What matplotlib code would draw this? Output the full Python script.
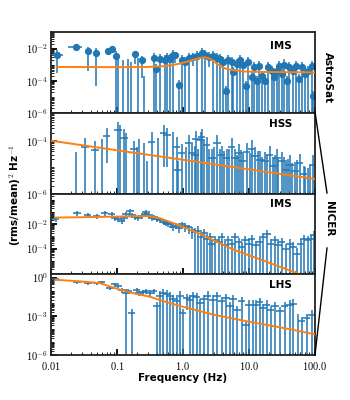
import matplotlib
matplotlib.use('Agg')
import matplotlib.pyplot as plt
import numpy as np
from matplotlib.ticker import FixedLocator, FixedFormatter, LogLocator, NullFormatter
from matplotlib.lines import Line2D

plt.rcParams['font.family'] = ['DejaVu Sans']
plt.rcParams['font.weight'] = 'bold'
plt.rcParams['mathtext.fontset'] = 'cm'

# ---------------- AstroSat IMS ----------------
astro_freq = [0.0123, 0.024, 0.036, 0.049, 0.073, 0.084, 0.098, 0.106, 0.122, 0.147,
              0.165, 0.19, 0.21, 0.24, 0.26, 0.36, 0.39, 0.45, 0.53, 0.57,
              0.64, 0.72, 0.76, 0.86, 0.96, 1.07, 1.25, 1.44, 1.65, 1.95,
              2.18, 2.5, 2.9, 3.3, 3.6, 4.1, 4.5, 4.9, 5.6, 5.8,
              6.6, 7.4, 8.1, 9.0, 9.8, 11.2, 12.0, 13.3, 14.4, 15.9,
              17.6, 19.5, 22.3, 24.1, 26.8, 28.7, 31.8, 34.1, 37.8, 40.6,
              46.7, 52.0, 57.8, 64.0, 71.0, 79.0, 91.0, 94.0]
astro_pow = [4.2e-3, 1.25e-2, 6.7e-3, 5.6e-3, 6.7e-3, 9.1e-3, 3.3e-3, 1e-9, 1e-9, 1e-9,
             1e-9, 4.3e-3, 1e-9, 1.85e-3, 1e-9, 2.6e-3, 5.1e-4, 2.4e-3, 1.85e-3, 2.6e-3,
             2.15e-3, 3.8e-3, 3.8e-3, 5.6e-5, 1.85e-3, 1.4e-3, 2.6e-3, 3.2e-3, 3.6e-3, 5.1e-3,
             4.2e-3, 3.2e-3, 3.6e-3, 2.6e-3, 2.2e-3, 1.4e-3, 2.4e-5, 1.9e-3, 1.4e-3, 3.3e-4,
             1.1e-3, 1.9e-3, 1.0e-3, 4.9e-5, 1.4e-3, 1.6e-4, 6.8e-4, 1.0e-4, 8.7e-4, 2.0e-4,
             1.0e-4, 6.8e-4, 4.2e-4, 1.6e-4, 4.2e-4, 8.7e-4, 2.6e-4, 1.0e-3, 1.0e-4, 6.8e-4,
             4.2e-4, 8.7e-4, 1.3e-4, 6.8e-4, 2.6e-4, 4.2e-4, 8.7e-4, 1.15e-5]
astro_err = [3.9e-3, 3e-3, 6.3e-3, 5.55e-3, 2e-3, 2.5e-3, 3.5e-3, 2.4e-3, 1.9e-3, 2.1e-3,
             1.5e-3, 3.2e-3, 2.6e-3, 1.7e-3, 2.1e-4, 2.7e-3, 6e-4, 2.5e-3, 2e-3, 2.7e-3,
             2.3e-3, 3.9e-3, 2.5e-3, 6e-5, 2e-3, 1.5e-3, 2.7e-3, 2.4e-3, 3.7e-3, 5.2e-3,
             4.3e-3, 2.5e-3, 3.7e-3, 2.7e-3, 2.3e-3, 1.5e-3, 2.5e-5, 2e-3, 1.5e-3, 3.4e-4,
             1.2e-3, 2e-3, 1.1e-3, 5e-5, 1.5e-3, 1.7e-4, 7e-4, 1.1e-4, 9e-4, 2.1e-4,
             1.1e-4, 7e-4, 4.3e-4, 1.7e-4, 4.3e-4, 9e-4, 2.7e-4, 1.1e-3, 1.1e-4, 7e-4,
             4.3e-4, 9e-4, 1.4e-4, 7e-4, 2.7e-4, 4.3e-4, 9e-4, 1.2e-5]
astro_model_f = [0.0123, 0.1, 0.3, 0.5, 0.7, 0.9, 1.2, 1.5, 1.8, 2.1, 2.4, 2.8, 3.3,
                 3.9, 4.6, 5.8, 8.0, 12.0, 20.0, 50.0, 100.0]
astro_model_p = [7.2e-4, 7.0e-4, 7.2e-4, 8e-4, 9.5e-4, 1.15e-3, 1.6e-3, 2.1e-3, 2.6e-3,
                 2.85e-3, 2.6e-3, 1.9e-3, 1.1e-3, 7e-4, 5.5e-4, 4.5e-4, 3.8e-4, 3.6e-4,
                 3.5e-4, 3.4e-4, 3.3e-4]

# ---------------- NICER HSS ----------------
hss_freq = [0.024, 0.033, 0.047, 0.06, 0.071, 0.105, 0.112, 0.13, 0.137, 0.185,
            0.2, 0.22, 0.26, 0.29, 0.34, 0.42, 0.51, 0.58, 0.7, 0.81,
            0.85, 0.96, 1.1, 1.25, 1.36, 1.53, 1.6, 1.7, 1.87, 1.94,
            2.1, 2.3, 2.5, 2.76, 3.0, 3.3, 3.6, 3.9, 4.2, 4.6,
            5.0, 5.5, 6.2, 6.6, 7.0, 7.6, 8.2, 9.3, 10.2, 11.0,
            12.5, 13.6, 14.8, 16.0, 17.7, 19.0, 20.5, 23.5, 25.0, 26.8,
            28.0, 31.6, 34.0, 36.7, 39.0, 42.0, 45.0, 50.0, 54.0, 59.0,
            67.0, 70.0, 78.0, 85.0, 92.0]
hss_pow = [1e-9, 6e-5, 4.6e-5, 1e-9, 1.54e-4, 2.5e-4, 1e-9, 1.3e-4, 1e-9, 4.8e-5,
           1e-9, 1e-9, 1e-9, 1e-9, 8.7e-5, 1e-9, 2.0e-4, 1.6e-4, 1e-9, 6e-5,
           8e-6, 3.4e-5, 1e-9, 8e-5, 3.4e-5, 3e-5, 1.2e-4, 1e-9, 1.07e-4, 1.4e-4,
           1e-9, 6.9e-5, 1e-9, 2.2e-5, 1e-9, 8e-5, 1e-9, 3e-5, 1e-9, 2.2e-5,
           1e-9, 6e-5, 2.2e-5, 1e-9, 3.4e-5, 1e-9, 1.7e-5, 3.9e-5, 1e-9, 5e-5,
           2.6e-5, 1e-9, 1.9e-5, 1e-9, 1.7e-5, 1e-9, 3e-5, 1.1e-5, 1e-9, 2.2e-5,
           1e-9, 1.7e-5, 1e-9, 8.1e-6, 1e-9, 1.26e-5, 1e-9, 7.1e-6, 1e-9, 1.45e-5,
           5.4e-6, 1e-9, 4e-6, 1e-9, 1.26e-5]
hss_err = [3.9e-5, 7e-5, 5e-5, 1.2e-4, 1.4e-4, 2.6e-4, 3.9e-4, 1.4e-4, 2e-4, 5e-5,
           6e-5, 1.2e-4, 8e-5, 1.7e-5, 1.2e-4, 1.3e-4, 1.9e-4, 1.5e-4, 2.2e-4, 8e-5,
           9e-6, 4e-5, 6e-5, 9e-5, 4e-5, 3.5e-5, 1.2e-4, 5e-5, 1.1e-4, 1.4e-4,
           1.2e-4, 7e-5, 5e-5, 2.5e-5, 6e-5, 8.5e-5, 5e-5, 3.5e-5, 4e-5, 2.5e-5,
           5e-5, 6.5e-5, 2.5e-5, 3e-5, 4e-5, 4.5e-5, 2e-5, 4e-5, 3.5e-5, 5.5e-5,
           3e-5, 4e-5, 2.2e-5, 2.5e-5, 2e-5, 3e-5, 3.5e-5, 1.3e-5, 3e-5, 2.5e-5,
           2e-5, 2e-5, 2.5e-5, 1e-5, 2e-5, 1.5e-5, 1.5e-5, 8e-6, 1.8e-5, 1.7e-5,
           6e-6, 1e-5, 5e-6, 1.2e-5, 1.5e-5]
hss_model_f = [0.01, 1.0, 100.0]
hss_model_p = [1e-4, 1.9e-5, 3.6e-6]

# ---------------- NICER IMS ----------------
ims_freq = [0.012, 0.025, 0.036, 0.05, 0.066, 0.084, 0.094, 0.106, 0.119, 0.13,
            0.14, 0.159, 0.172, 0.19, 0.21, 0.24, 0.27, 0.28, 0.31, 0.34,
            0.37, 0.40, 0.45, 0.51, 0.55, 0.6, 0.66, 0.72, 0.78, 0.86,
            0.96, 1.08, 1.22, 1.37, 1.54, 1.72, 1.87, 2.1, 2.3, 2.6,
            2.75, 3.1, 3.5, 3.9, 4.4, 4.9, 5.5, 6.2, 7.0, 7.8,
            8.8, 9.9, 11.1, 13.0, 14.5, 16.5, 19.0, 21.5, 25.0, 28.0,
            31.6, 36.7, 42.0, 47.0, 53.0, 61.0, 69.0, 77.0, 87.0, 95.0]
ims_pow = [0.025, 0.085, 0.055, 0.046, 0.085, 0.063, 0.034, 0.025, 0.018, 0.034,
           0.063, 0.115, 0.055, 0.038, 0.03, 0.046, 0.063, 0.1, 0.055, 0.034,
           0.038, 0.025, 0.022, 0.016, 0.013, 0.011, 0.0098, 0.006, 0.0075, 0.0048,
           0.01, 0.0073, 0.0054, 0.0033, 0.0021, 0.0029, 8.5e-4, 1.8e-3, 6.3e-4, 8.5e-4,
           2.5e-4, 4.6e-4, 3.4e-4, 8.5e-4, 1.8e-4, 4.6e-4, 2.5e-4, 8.5e-4, 3.4e-4, 1.35e-4,
           4.6e-4, 2.5e-4, 6.3e-4, 1.8e-4, 3.4e-4, 8.5e-4, 1.6e-3, 2.5e-4, 4.6e-4, 1.8e-4,
           3.4e-4, 1e-4, 2.5e-4, 1.35e-4, 4e-5, 2.5e-4, 6.3e-4, 4.6e-4, 6e-4, 1.2e-3]
ims_rel = [0.45, 0.45, 0.45, 0.45, 0.45, 0.45, 0.45, 0.45, 0.45, 0.45,
           0.45, 0.45, 0.45, 0.45, 0.45, 0.45, 0.45, 0.45, 0.45, 0.45,
           0.45, 0.45, 0.45, 0.5, 0.5, 0.5, 0.5, 0.5, 0.5, 0.6,
           0.6, 0.7, 0.7, 0.8, 1.1, 1.2, 1.3, 1.2, 1.4, 1.3,
           1.5, 1.3, 1.4, 1.2, 1.5, 1.3, 1.4, 1.2, 1.3, 1.6,
           1.3, 1.4, 1.2, 1.5, 1.3, 1.2, 1.1, 1.4, 1.3, 1.5,
           1.3, 1.6, 1.4, 1.5, 1.8, 1.4, 1.2, 1.3, 1.3, 1.2]
ims_model_f = [0.012, 0.05, 0.1, 0.2, 0.3, 0.45, 0.6, 0.91, 1.83, 5.8, 18.6, 61.0, 100.0]
ims_model_p = [0.034, 0.038, 0.041, 0.044, 0.045, 0.03, 0.017, 0.0073, 1.6e-3, 8.3e-5,
               8.5e-6, 7.5e-7, 2.5e-7]

# ---------------- NICER LHS ----------------
lhs_freq = [0.012, 0.025, 0.037, 0.05, 0.059, 0.079, 0.094, 0.106, 0.119, 0.138,
            0.15, 0.167, 0.2, 0.22, 0.25, 0.28, 0.32, 0.36, 0.41, 0.45,
            0.5, 0.57, 0.64, 0.72, 0.81, 0.91, 1.0, 1.15, 1.28, 1.44,
            1.63, 1.83, 2.1, 2.4, 2.9, 3.3, 3.9, 4.5, 5.2, 5.8,
            6.7, 7.8, 9.1, 9.9, 11.5, 13.0, 14.5, 16.5, 18.6, 21.5,
            25.0, 29.6, 35.0, 42.0, 47.0, 55.0, 63.0, 75.0, 90.0]
lhs_pow = [0.75, 0.45, 0.36, 0.36, 0.45, 0.165, 0.3, 0.22, 0.107, 0.067,
           0.09, 1.9e-3, 0.12, 0.067, 0.075, 0.09, 0.067, 0.09, 6e-3, 0.041,
           0.067, 0.056, 0.036, 0.023, 0.015, 0.041, 1.9e-3, 0.027, 0.02, 0.036,
           0.032, 0.011, 0.023, 0.041, 0.02, 0.036, 0.015, 0.027, 6e-3, 0.023,
           3.3e-3, 0.015, 2.2e-4, 8.2e-3, 1e-9, 8.2e-3, 0.012, 4.5e-3, 8.2e-3, 3.3e-3,
           6e-3, 2.5e-3, 6e-3, 8.2e-3, 9.8e-3, 1e-9, 4.1e-4, 7.5e-4, 1.35e-3]
lhs_err = [0.2, 0.12, 0.1, 0.1, 0.12, 0.06, 0.09, 0.07, 0.04, 0.075,
           0.04, 2.1e-3, 0.05, 0.03, 0.03, 0.04, 0.03, 0.04, 6.5e-3, 0.045,
           0.075, 0.06, 0.04, 0.025, 0.016, 0.045, 2.1e-3, 0.024, 0.022, 0.04,
           0.035, 0.012, 0.025, 0.045, 0.022, 0.04, 0.016, 0.03, 6.5e-3, 0.025,
           3.6e-3, 0.016, 2.4e-4, 9e-3, 0.02, 9e-3, 0.013, 5e-3, 9e-3, 3.6e-3,
           6.5e-3, 2.8e-3, 6.5e-3, 9e-3, 0.011, 1.5e-3, 4.5e-4, 8e-4, 1.5e-3]
lhs_model_f = [0.012, 0.03, 0.055, 0.08, 0.11, 0.17, 0.32, 0.5, 0.91, 2.9, 9.3, 29.6, 100.0]
lhs_model_p = [0.68, 0.5, 0.38, 0.2, 0.12, 0.065, 0.033, 0.015, 6.3e-3, 1.35e-3,
               4.1e-4, 1.4e-4, 4e-5]

blue = '#1f77b4'
orange = '#ff7f0e'

fig = plt.figure(figsize=(3.5, 4), dpi=100)
gs = fig.add_gridspec(4, 1, left=0.145, right=0.9, top=0.919, bottom=0.1125, hspace=0)
axes = [fig.add_subplot(gs[i]) for i in range(4)]


def clip_low(p, e):
    # lower error capped just under the value so the log axis draws it to the floor
    p = np.array(p)
    e = np.array(e)
    lo = np.minimum(e, p * (1 - 1e-6))
    return [lo, e]


# panel 1: AstroSat
ax = axes[0]
f = np.array(astro_freq)
fx = f * 0.06
fx[:2] = [0.003, 0.006]
ax.errorbar(f, astro_pow, yerr=clip_low(astro_pow, astro_err), xerr=fx, fmt='o',
            ms=4.2, color=blue, elinewidth=1.1, capsize=0)
ax.plot(astro_model_f, astro_model_p, color=orange, lw=1.4, zorder=4)
ax.set_ylim(1e-6, 1e-1)

# panel 2: HSS
ax = axes[1]
f = np.array(hss_freq)
ax.errorbar(f, hss_pow, yerr=clip_low(hss_pow, hss_err), xerr=f * 0.13, fmt='none',
            color=blue, elinewidth=1.1, capsize=0)
ax.plot(hss_model_f, hss_model_p, color=orange, lw=1.4, zorder=4)
ax.set_ylim(1e-6, 1.1e-3)

# panel 3: IMS
ax = axes[2]
f = np.array(ims_freq)
ims_err = np.array(ims_pow) * np.array(ims_rel)
ax.errorbar(f, ims_pow, yerr=clip_low(ims_pow, ims_err), xerr=f * 0.13, fmt='none',
            color=blue, elinewidth=1.1, capsize=0)
ax.plot(ims_model_f, ims_model_p, color=orange, lw=1.4, zorder=4)
ax.set_ylim(8e-7, 3.0)

# panel 4: LHS
ax = axes[3]
f = np.array(lhs_freq)
ax.errorbar(f, lhs_pow, yerr=clip_low(lhs_pow, lhs_err), xerr=f * 0.13, fmt='none',
            color=blue, elinewidth=1.1, capsize=0)
ax.plot(lhs_model_f, lhs_model_p, color=orange, lw=1.4, zorder=4)
ax.set_ylim(1e-6, 1.8)

ytick_sets = [
    ([1e-6, 1e-4, 1e-2], [r'$\mathbf{10^{-6}}$', r'$\mathbf{10^{-4}}$', r'$\mathbf{10^{-2}}$']),
    ([1e-6, 1e-4], [r'$\mathbf{10^{-6}}$', r'$\mathbf{10^{-4}}$']),
    ([1e-4, 1e-2], [r'$\mathbf{10^{-4}}$', r'$\mathbf{10^{-2}}$']),
    ([1e-6, 1e-3, 1e0], [r'$\mathbf{10^{-6}}$', r'$\mathbf{10^{-3}}$', r'$\mathbf{10^{0}}$']),
]
labels = ['IMS', 'HSS', 'IMS', 'LHS']
label_y = [0.83, 0.86, 0.87, 0.87]

for i, ax in enumerate(axes):
    ax.set_xscale('log')
    ax.set_yscale('log')
    ax.set_xlim(0.01, 100)
    ticks, tlabels = ytick_sets[i]
    ax.yaxis.set_major_locator(FixedLocator(ticks))
    ax.yaxis.set_major_formatter(FixedFormatter(tlabels))
    ax.yaxis.set_minor_locator(LogLocator(base=10, subs=np.arange(1, 10), numticks=40))
    ax.yaxis.set_minor_formatter(NullFormatter())
    ax.xaxis.set_major_locator(FixedLocator([0.01, 0.1, 1, 10, 100]))
    ax.xaxis.set_minor_locator(LogLocator(base=10, subs=np.arange(2, 10), numticks=40))
    ax.xaxis.set_minor_formatter(NullFormatter())
    if i == 3:
        ax.xaxis.set_major_formatter(FixedFormatter(
            [r'$\mathbf{0.01}$', r'$\mathbf{0.1}$', r'$\mathbf{1.0}$',
             r'$\mathbf{10.0}$', r'$\mathbf{100.0}$']))
    else:
        ax.xaxis.set_major_formatter(NullFormatter())
    ax.tick_params(which='major', direction='in', length=4, width=1.3, labelsize=7.5, pad=2)
    ax.tick_params(which='minor', direction='in', length=2, width=0.6)
    for sp in ax.spines.values():
        sp.set_linewidth(1.3)
        sp.set_color('#222222')
    ax.text(0.87, label_y[i], labels[i], transform=ax.transAxes, ha='center', va='center',
            fontsize=7.5, fontweight='bold')

axes[3].tick_params(axis='x', which='major', pad=3.5)
axes[3].set_xlabel('Frequency (Hz)', fontsize=7.5, fontweight='bold', labelpad=1)
fig.text(15 / 350, 1 - 195 / 400, r'(rms/mean)$^\mathbf{2}$ Hz$^\mathbf{-1}$', rotation=90,
         ha='center', va='center', fontsize=7.5, fontweight='bold')

# right-hand instrument labels
fig.text(328 / 350, 1 - 78 / 400, 'AstroSat', rotation=270, ha='center', va='center',
         fontsize=7.5, fontweight='bold')
fig.text(329 / 350, 1 - 219 / 400, 'NICER', rotation=270, ha='center', va='center',
         fontsize=7.5, fontweight='bold')
fig.add_artist(Line2D([315 / 350, 327 / 350], [1 - 112 / 400, 1 - 193 / 400],
                      transform=fig.transFigure, color='k', lw=1.0))
fig.add_artist(Line2D([315 / 350, 327 / 350], [1 - 355 / 400, 1 - 248 / 400],
                      transform=fig.transFigure, color='k', lw=1.0))

fig.savefig('out.png', dpi=100, facecolor='white')
